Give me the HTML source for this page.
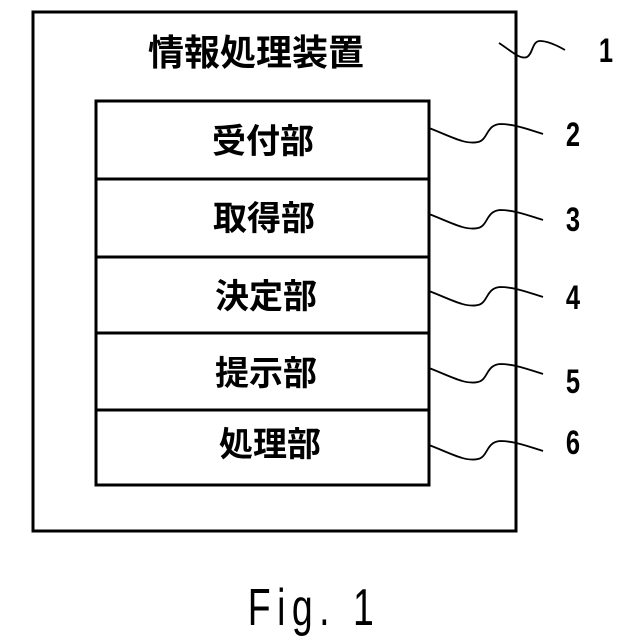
<!DOCTYPE html>
<html><head><meta charset="utf-8"><style>
html,body{margin:0;padding:0;background:#fff;}
svg{display:block}
</style></head><body>
<svg width="640" height="640" viewBox="0 0 640 640" xmlns="http://www.w3.org/2000/svg">
<rect x="33" y="12" width="483" height="519" fill="none" stroke="#000" stroke-width="3"/>
<text x="256" y="65" font-family="Liberation Sans, Noto Sans CJK JP, sans-serif" font-size="36" font-weight="600" text-anchor="middle" fill="#000">情報処理装置</text>
<rect x="96" y="101" width="333" height="384" fill="none" stroke="#000" stroke-width="3"/>
<g stroke="#000" stroke-width="3">
<line x1="96" y1="179" x2="429" y2="179"/>
<line x1="96" y1="257" x2="429" y2="257"/>
<line x1="96" y1="333" x2="429" y2="333"/>
<line x1="96" y1="410" x2="429" y2="410"/>
</g>
<g font-family="Liberation Sans, Noto Sans CJK JP, sans-serif" font-size="34" font-weight="600" text-anchor="middle" fill="#000">
<text x="263" y="153">受付部</text>
<text x="264" y="230">取得部</text>
<text x="266" y="308">決定部</text>
<text x="266" y="385">提示部</text>
<text x="270" y="456">処理部</text>
</g>
<g fill="none" stroke="#000" stroke-width="1.8">
<path d="M499,43 C510,50 520,60 527,57 C533,54 532,41 540,41 C548,41 558,46 565,50"/>
<path d="M429,128 C450,136 465,145 478,142 C488,140 486,125 500,124 C515,124 530,130 543,134"/>
<path d="M429,214 C450,222 465,231 478,228 C488,226 486,211 500,210 C515,210 530,216 543,220"/>
<path d="M429,291 C450,299 465,308 478,305 C488,303 486,288 500,287 C515,287 530,293 543,297"/>
<path d="M429,368 C450,376 465,385 478,382 C488,380 486,365 500,364 C515,364 530,370 543,374"/>
<path d="M429,445 C450,453 465,462 478,459 C488,457 486,442 500,441 C515,441 530,447 543,451"/>
</g>
<g font-family="Liberation Sans, sans-serif" font-size="34" font-weight="bold" fill="#000" text-anchor="middle">
<text x="606" y="62" transform="translate(606 0) scale(0.75 1) translate(-606 0)">1</text>
<text x="573" y="146" transform="translate(573 0) scale(0.75 1) translate(-573 0)">2</text>
<text x="573" y="231" transform="translate(573 0) scale(0.75 1) translate(-573 0)">3</text>
<text x="573" y="309" transform="translate(573 0) scale(0.75 1) translate(-573 0)">4</text>
<text x="573" y="393" transform="translate(573 0) scale(0.75 1) translate(-573 0)">5</text>
<text x="573" y="454" transform="translate(573 0) scale(0.75 1) translate(-573 0)">6</text>
</g>
<text x="314" y="625" font-family="Liberation Sans, sans-serif" font-size="52" letter-spacing="9" text-anchor="middle" fill="#000" transform="translate(314 0) scale(0.72 1) translate(-314 0)">Fig. 1</text>
</svg>
</body></html>
